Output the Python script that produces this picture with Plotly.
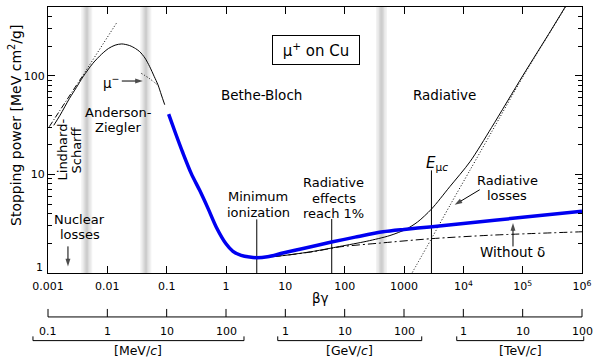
import numpy as np
import plotly.graph_objects as go

# ---------------- data ----------------
# low-energy mu+ stopping power (Anderson-Ziegler region), thin solid
az_bg = [0.00125, 0.0016, 0.0023, 0.0030, 0.0039, 0.0057, 0.0080, 0.0105, 0.0135,
         0.0175, 0.0238, 0.0300, 0.0352, 0.043, 0.0518, 0.0615, 0.0715, 0.0815, 0.0927]
az_v = [31.5, 40, 59, 76, 98, 134, 166, 190, 205, 211, 203, 189, 176, 152, 124, 99, 81, 64, 51]

# Lindhard-Scharff line (dash-dot) and its dotted extension
ls_bg = [0.00105, 0.0037]
ls_v = [30.5, 97]
ls_ext_bg = [0.0037, 0.0142]
ls_ext_v = [97, 342]

# mu- (Barkas) dotted piece
mum_bg = [0.0375, 0.05, 0.062, 0.072]
mum_v = [106, 95, 86, 80]

# Bethe-Bloch (thick blue)
bb_bg = [0.108, 0.14, 0.188, 0.26, 0.36, 0.5, 0.69, 1.0, 1.31, 1.8, 2.5, 3.25, 5.0,
         9.1, 20, 60, 150, 443, 1000, 2710, 1e4, 1e5, 1e6]
bb_v = [40.9, 26.5, 16.5, 10.2, 6.9, 4.5, 2.9, 1.98, 1.66, 1.51, 1.45, 1.43, 1.46,
        1.595, 1.775, 2.06, 2.31, 2.62, 2.77, 2.93, 3.18, 3.67, 4.23]

# Bethe without density effect (dash-dot)
nd_bg = [3.3, 9, 30, 82.6, 389, 2900, 3e4, 1e6]
nd_v = [1.42, 1.5, 1.65, 1.84, 2.01, 2.23, 2.42, 2.62]

# total stopping power (thin solid, high energy)
tot_bg = [3.3, 9, 30, 82.6, 236, 580, 1080, 1700, 2900, 5900, 1.3e4, 3e4, 1e5, 3e5, 5.2e5]
tot_v = [1.42, 1.5, 1.66, 1.86, 2.1, 2.4, 2.78, 3.3, 4.45, 7.5, 13.5, 30, 100, 290, 500]

# radiative losses (dotted)
rad_bg = [1300, 2900, 6000, 1.3e4, 3e4, 1e5, 3e5, 5.5e5]
rad_v = [0.95, 2.23, 4.9, 11.1, 27, 97, 288, 520]

# marker lines: (beta*gamma, top value)
vlines_bg = [3.3, 60.5, 2900]
vlines_top = [3.5, 3.53, 11]

# region boundaries (gray bands)
band_bg = [0.0045, 0.0445, 418]

# axes
x_tickvals = [1e-3, 1e-2, 1e-1, 1, 10, 100, 1000, 1e4, 1e5, 1e6]
x_ticktext = ["0.001", "0.01", "0.1", "1", "10", "100", "1000",
              "10<sup>4</sup>", "10<sup>5</sup>", "10<sup>6</sup>"]
y_tickvals = [10, 100]
y_ticktext = ["10", "100"]
p_ticktext = ["0.1", "1", "10", "100", "1", "10", "100", "1", "10", "100"]
p_units = ["[MeV/<i>c</i>]", "[GeV/<i>c</i>]", "[TeV/<i>c</i>]"]
p_unit_spans = [(0.000558, 2.01), (7.45, 1990), (7745, 1.07e6)]

X_RANGE = [-3, 6]
Y_RANGE = [0, np.log10(500)]
FONT = "DejaVu Sans"
LAB = 13.5
LAB2 = 13

# ---------------- figure ----------------
fig = go.Figure()

def xp(bg):
    return (np.log10(bg) - X_RANGE[0]) / (X_RANGE[1] - X_RANGE[0])

# gray bands
for c in band_bg:
    for hw, col in [(5.5, "#f2f2f2"), (4, "#e7e7e7"), (2.5, "#dadada"), (1.2, "#cdcdcd")]:
        h = hw / 59.33
        fig.add_shape(type="rect", xref="x", yref="paper",
                      x0=10 ** (np.log10(c) - h), x1=10 ** (np.log10(c) + h),
                      y0=0, y1=1, fillcolor=col, line=dict(width=0), layer="below")

blk = "black"
def line(x, y, dash=None, width=1, color=blk, shape="spline"):
    fig.add_trace(go.Scatter(x=x, y=y, mode="lines",
                             line=dict(color=color, width=width, dash=dash,
                                       shape=shape, smoothing=0.8),
                             hoverinfo="skip"))

def arrow(bg0, v0, bg1, v1):
    fig.add_trace(go.Scatter(x=[bg0, bg1], y=[v0, v1], mode="lines+markers",
                             line=dict(color=blk, width=1),
                             marker=dict(symbol="arrow", angleref="previous", size=[0, 8],
                                         color=blk, line=dict(width=0)),
                             hoverinfo="skip"))

line(az_bg, az_v)
line(ls_bg, ls_v, dash="6px,2px,1px,2px", shape="linear")
line(ls_ext_bg, ls_ext_v, dash="1px,2px", shape="linear")
line(mum_bg, mum_v, dash="1px,2px")
line(nd_bg, nd_v, dash="8px,3px,2px,3px")
line(tot_bg, tot_v)
line(rad_bg, rad_v, dash="1px,2px")
for b, t in zip(vlines_bg, vlines_top):
    line([b, b], [1, t], shape="linear")

# arrows
arrow(0.01754, 88.7, 0.0396, 88.7)      # mu-
arrow(0.00217, 1.862, 0.00217, 1.167)   # nuclear losses
arrow(1.89e4, 7.0, 7145, 4.92)          # radiative losses
arrow(6.87e4, 1.86, 6.87e4, 3.21)       # without delta

line(bb_bg, bb_v, width=3.5, color="#0000f0")

# axes
fig.update_xaxes(type="log", range=X_RANGE, tickvals=x_tickvals, ticktext=x_ticktext,
                 ticks="inside", ticklen=7, tickcolor=blk, showline=True, linecolor=blk,
                 linewidth=1, mirror="ticks", showgrid=False, zeroline=False,
                 ticklabelstandoff=3,
                 tickfont=dict(size=11, family=FONT, color=blk))
fig.update_yaxes(type="log", range=Y_RANGE, tickvals=y_tickvals, ticktext=y_ticktext,
                 ticks="inside", ticklen=7, tickcolor=blk, showline=True, linecolor=blk,
                 linewidth=1, mirror="ticks", showgrid=False, zeroline=False,
                 minor=dict(ticks="inside", ticklen=4, tickcolor=blk, dtick="D1", showgrid=False),
                 tickfont=dict(size=11, family=FONT, color=blk))

ann = []
def lab(text, bg, v, size=LAB2, **kw):
    d = dict(text=text, x=np.log10(bg), y=np.log10(v), xref="x", yref="y",
             xanchor="center", yanchor="middle", showarrow=False,
             font=dict(size=size, family=FONT, color=blk))
    d.update(kw)
    ann.append(d)

def plab(text, x, y, size=LAB, xref="paper", **kw):
    d = dict(text=text, x=x, y=y, xref=xref, yref="paper", xanchor="center",
             yanchor="middle", showarrow=False, font=dict(size=size, family=FONT, color=blk))
    d.update(kw)
    ann.append(d)

lab("μ<sup>+</sup> on Cu", 33.4, 183.7, size=15, bordercolor=blk, borderwidth=1,
    borderpad=3, width=80, height=22)
lab("Bethe-Bloch", 4.0, 64, size=LAB)
lab("Radiative", 4853, 64, size=LAB)
lab("Anderson-", 0.01514, 42.5)
lab("Ziegler", 0.01514, 29.8)
lab("Lindhard-", 0.00177, 17.8, textangle=-90)
lab("Scharff", 0.00305, 17.8, textangle=-90)
lab("μ<sup>−</sup>", 0.01172, 87.5, size=LAB)
lab("Nuclear", 0.00342, 3.466)
lab("losses", 0.00342, 2.431)
lab("Minimum", 3.47, 5.91)
lab("ionization", 3.47, 4.143)
lab("Radiative", 65.3, 8.19)
lab("effects", 65.3, 5.745)
lab("reach 1%", 65.3, 4.03)
lab("<i>E</i><sub>μ<i>c</i></sub>", 3631, 13.0, size=15)
lab("Radiative", 5.5e4, 8.77)
lab("losses", 5.5e4, 6.155)
lab("Without δ", 6.87e4, 1.62, size=LAB)

# y tick label "1" (raised) and titles
plab("1", -0.016, 0.0214, size=11)
plab("Stopping power [MeV cm<sup>2</sup>/g]", -0.062, 0.556, size=14, textangle=-90)
plab("βγ", np.log10(39.5), -0.094, xref="x")

# momentum scale below
AX_Y = -0.1652
fig.add_shape(type="line", xref="paper", yref="paper", x0=0, x1=1, y0=AX_Y, y1=AX_Y,
              line=dict(color=blk, width=1))
for bg, t in zip(x_tickvals, p_ticktext):
    fig.add_shape(type="line", xref="paper", yref="paper", x0=xp(bg), x1=xp(bg),
                  y0=AX_Y, y1=AX_Y + 0.030, line=dict(color=blk, width=1))
    plab(t, np.log10(bg), -0.2181, size=11, xref="x")
BR_Y = -0.2542
for (a, b), u in zip(p_unit_spans, p_units):
    fig.add_shape(type="line", xref="paper", yref="paper", x0=xp(a), x1=xp(b),
                  y0=BR_Y, y1=BR_Y, line=dict(color=blk, width=1))
    for e in (a, b):
        fig.add_shape(type="line", xref="paper", yref="paper", x0=xp(e), x1=xp(e),
                      y0=BR_Y, y1=BR_Y + 0.016, line=dict(color=blk, width=1))
    plab(u, (xp(a) + xp(b)) / 2, -0.291, size=12.5)

fig.update_layout(width=600, height=359, margin=dict(l=48, r=18, t=7, b=86),
                  paper_bgcolor="white", plot_bgcolor="white", showlegend=False,
                  font=dict(family=FONT, size=13, color=blk), annotations=ann)

fig.write_html("out.html", config={"displayModeBar": False, "staticPlot": True},
               post_script="document.body.style.margin='0px';")
